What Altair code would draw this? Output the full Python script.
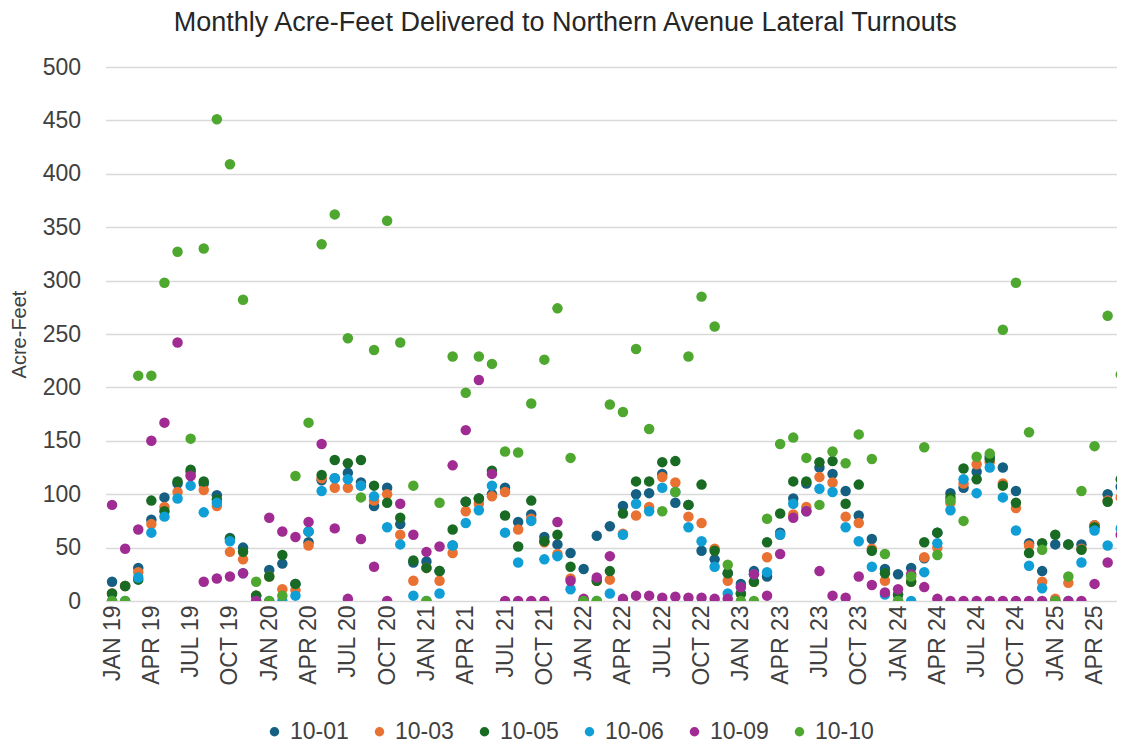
import altair as alt
import pandas as pd

# ---------------- data ----------------
tick_labels = [
    "JAN 19", "APR 19", "JUL 19", "OCT 19",
    "JAN 20", "APR 20", "JUL 20", "OCT 20",
    "JAN 21", "APR 21", "JUL 21", "OCT 21",
    "JAN 22", "APR 22", "JUL 22", "OCT 22",
    "JAN 23", "APR 23", "JUL 23", "OCT 23",
    "JAN 24", "APR 24", "JUL 24", "OCT 24",
    "JAN 25", "APR 25",
]

series_names = ["10-01", "10-03", "10-05", "10-06", "10-09", "10-10"]
series_colors = ["#156082", "#E97132", "#196B24", "#0F9ED5", "#A02B93", "#4EA72E"]

s_10_01 = [18, 14, 31, 76, 97, 110, 121, 110, 99, 59,
           50, 5, 29, 35, 16, 55, 113, 115, 120, 111,
           89, 106, 72, 36, 37, 28, 52, 93, 96, 100,
           106, 74, 81, 60, 53, 45, 30, 61, 70, 89,
           100, 101, 119, 92, 90, 47, 39, 26, 16, 28,
           23, 64, 96, 110, 125, 119, 103, 80, 58, 30,
           25, 31, 40, 64, 101, 106, 121, 135, 125, 103,
           54, 28, 53, 53, 53, 71, 100, 107]
s_10_03 = [7, 14, 27, 72, 88, 102, 118, 104, 89, 46,
           39, 5, 23, 11, 10, 52, 115, 106, 106, 108,
           94, 100, 62, 19, 31, 19, 45, 84, 91, 98,
           102, 67, 77, 55, 44, 21, 0, 19, 20, 63,
           80, 88, 116, 111, 79, 73, 49, 19, 7, 18,
           41, 62, 81, 88, 116, 111, 79, 73, 49, 19,
           6, 18, 41, 50, 92, 110, 128, 130, 110, 87,
           52, 18, 2, 17, 49, 71, 94, 97]
s_10_05 = [7, 14, 20, 94, 84, 112, 123, 112, 95, 58,
           46, 5, 23, 43, 16, 65, 118, 132, 129, 132,
           108, 92, 78, 38, 31, 28, 67, 93, 96, 122,
           80, 51, 94, 56, 62, 32, 0, 19, 28, 82,
           112, 112, 130, 131, 90, 109, 47, 26, 7, 18,
           55, 82, 112, 112, 130, 131, 91, 109, 47, 26,
           6, 18, 55, 64, 97, 124, 114, 133, 108, 92,
           45, 54, 62, 53, 48, 69, 93, 114]
s_10_06 = [0, 0, 22, 64, 79, 96, 108, 83, 92, 56,
           26, 0, 0, 0, 5, 65, 103, 115, 114, 108,
           98, 69, 53, 5, 0, 7, 52, 73, 85, 108,
           64, 36, 75, 39, 42, 11, 0, 0, 7, 62,
           91, 84, 106, 102, 69, 56, 32, 7, 13, 25,
           27, 62, 91, 84, 105, 102, 69, 56, 32, 6,
           0, 0, 27, 54, 85, 114, 101, 125, 97, 66,
           33, 12, 0, 0, 36, 66, 52, 68]
s_10_09 = [90, 49, 67, 150, 167, 242, 117, 18, 21, 23,
           26, 0, 78, 65, 60, 74, 147, 68, 2, 58,
           32, 0, 91, 62, 46, 51, 127, 160, 207, 119,
           0, 0, 0, 0, 74, 19, 2, 22, 42, 2,
           5, 5, 3, 4, 3, 3, 2, 2, 13, 25,
           5, 44, 78, 84, 28, 5, 3, 23, 15, 8,
           11, 25, 13, 2, 0, 0, 0, 0, 0, 0,
           0, 0, 0, 0, 0, 16, 36, 62]
s_10_10 = [0, 0, 211, 211, 298, 327, 152, 330, 451, 409,
           282, 18, 0, 5, 117, 167, 334, 362, 246, 97,
           235, 356, 242, 108, 0, 92, 229, 195, 229, 222,
           140, 139, 185, 226, 274, 134, 0, 0, 184, 177,
           236, 161, 84, 102, 229, 285, 257, 34, 0, 0,
           77, 147, 153, 134, 90, 140, 129, 156, 133, 44,
           0, 23, 144, 43, 94, 75, 135, 138, 254, 298,
           158, 48, 0, 23, 103, 145, 267, 212]

series_values = [s_10_01, s_10_03, s_10_05, s_10_06, s_10_09, s_10_10]

rows = []
for name, vals in zip(series_names, series_values):
    for i, v in enumerate(vals):
        rows.append({"month": i, "series": name, "value": v})
df = pd.DataFrame(rows)

label_array = "[" + ",".join("'" + t + "'" for t in tick_labels) + "]"
label_expr = label_array + "[round(datum.value / 3)]"

AXIS_FONT = "Liberation Sans"
TEXT_COLOR = "#404040"

PLOT_W = 1011.5
PX_PER_MONTH = 13.1
x_max = -0.5 + PLOT_W / PX_PER_MONTH

points = alt.Chart(df).mark_circle(size=110, opacity=1, clip=True).encode(
    x=alt.X(
        "month:Q",
        scale=alt.Scale(domain=[-0.5, x_max], nice=False, zero=False),
        axis=alt.Axis(
            values=list(range(0, 78, 3)),
            labelExpr=label_expr,
            labelAngle=270,
            labelFontSize=23,
            labelFont=AXIS_FONT,
            labelColor=TEXT_COLOR,
            labelPadding=4,
            labelOverlap=False,
            ticks=False,
            domain=False,
            grid=False,
            title=None,
        ),
    ),
    y=alt.Y(
        "value:Q",
        scale=alt.Scale(domain=[0, 500], nice=False),
        axis=alt.Axis(
            values=list(range(0, 501, 50)),
            labelFontSize=23,
            labelFont=AXIS_FONT,
            labelColor=TEXT_COLOR,
            labelPadding=25,
            ticks=False,
            domain=False,
            grid=True,
            gridColor="#D9D9D9",
            gridWidth=1.5,
            title="Acre-Feet",
            titleFont=AXIS_FONT,
            titleFontSize=20,
            titleFontWeight="normal",
            titleColor=TEXT_COLOR,
            titleAngle=270,
            titleX=-86,
            titleY=267,
            titleAlign="center",
            titleBaseline="middle",
        ),
    ),
    color=alt.Color(
        "series:N",
        scale=alt.Scale(domain=series_names, range=series_colors),
        legend=alt.Legend(
            title=None,
            orient="none",
            direction="horizontal",
            legendX=157.5,
            legendY=653,
            symbolType="circle",
            symbolSize=90,
            symbolOpacity=1,
            symbolStrokeWidth=0,
            labelFont=AXIS_FONT,
            labelFontSize=23,
            labelColor=TEXT_COLOR,
            labelOffset=4,
            columnPadding=19,
            padding=0,
        ),
    ),
    order=alt.Order("series:N"),
)

chart = points.properties(
    width=PLOT_W,
    height=534,
    title=alt.TitleParams(
        text="Monthly Acre-Feet Delivered to Northern Avenue Lateral Turnouts",
        font=AXIS_FONT,
        fontSize=27,
        fontWeight="normal",
        color="#262626",
        anchor="middle",
        frame="group",
        dx=-46,
        offset=19,
    ),
    autosize=alt.AutoSizeParams(type="none"),
    padding={"left": 97.5, "top": 59, "right": 0, "bottom": 142},
).configure_view(stroke=None)

chart.save("out.html", embed_options={"renderer": "svg", "actions": False})
